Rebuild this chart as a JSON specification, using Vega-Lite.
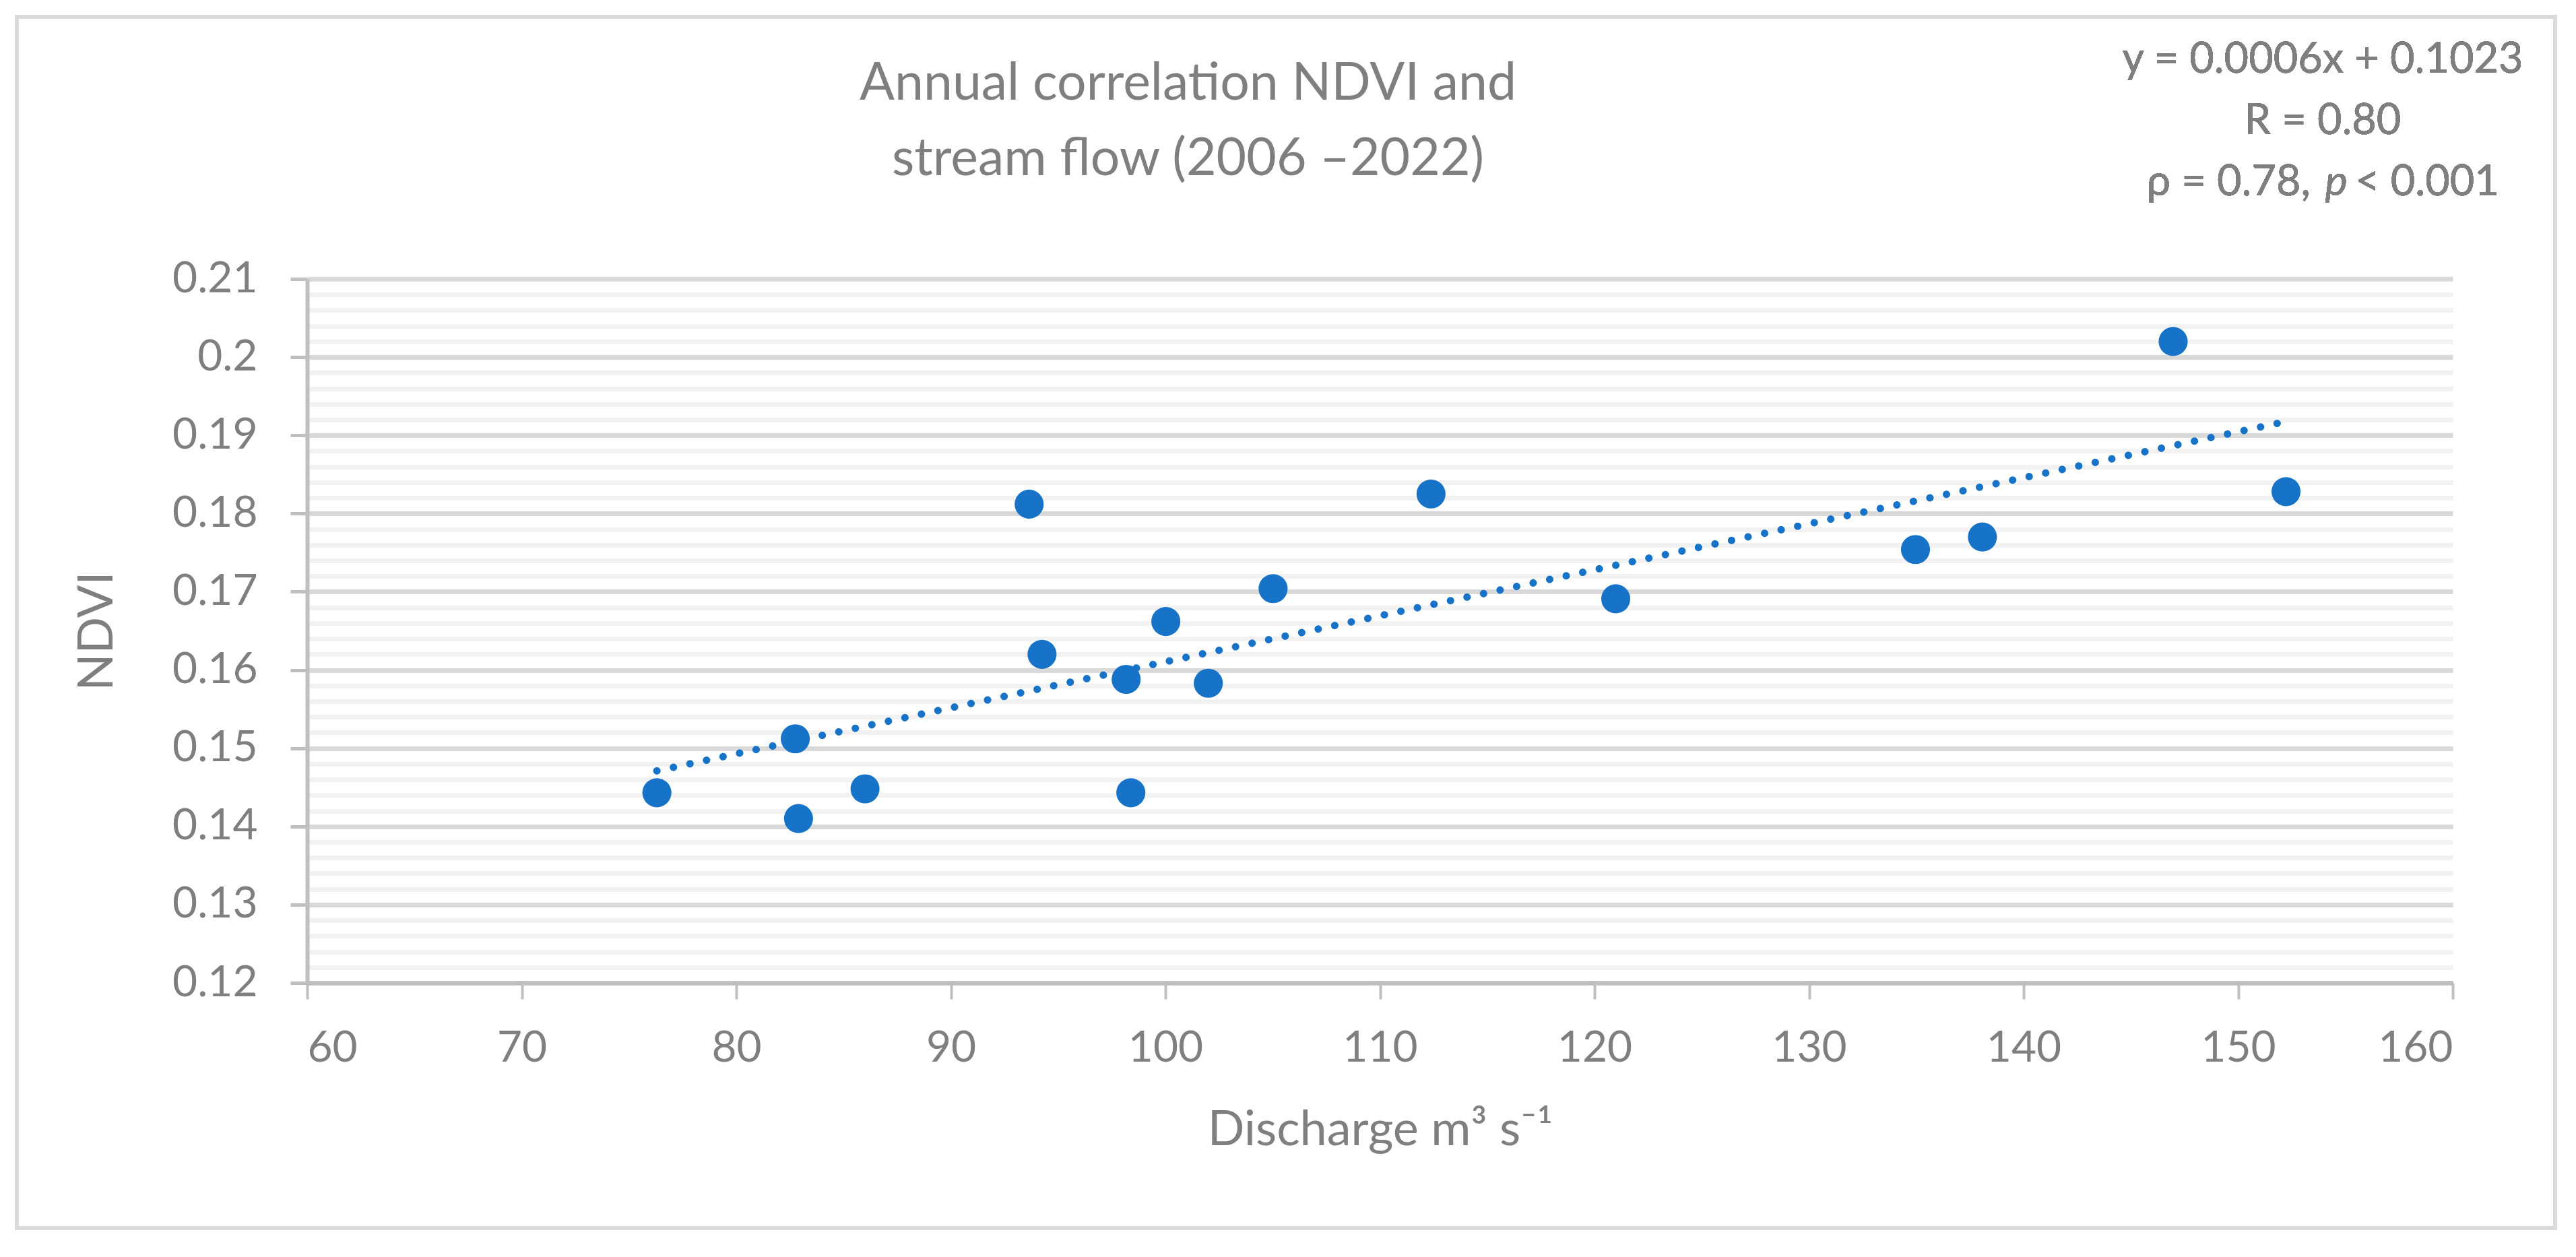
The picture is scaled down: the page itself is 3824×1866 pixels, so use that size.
{
  "$schema": "https://vega.github.io/schema/vega-lite/v6.json",
  "description": "Annual correlation NDVI and stream flow (2006-2022), scatter with linear trendline",
  "width": 3185,
  "height": 1045,
  "autosize": {"type": "none"},
  "padding": {"left": 456, "top": 414, "right": 183, "bottom": 407},
  "background": "white",
  "config": {
    "view": {"stroke": null},
    "font": "Lato",
    "text": {"font": "Lato"}
  },
  "title": {
    "text": ["Annual correlation NDVI and", "stream flow (2006 \u20132022)"],
    "anchor": "middle",
    "dx": -285,
    "offset": -253,
    "font": "Lato",
    "fontSize": 77,
    "fontWeight": "normal",
    "color": "#7F7F7F",
    "lineHeight": 112
  },
  "data": {
    "values": [
      {"Discharge": 76.3, "NDVI": 0.1443},
      {"Discharge": 82.75, "NDVI": 0.1512},
      {"Discharge": 82.9, "NDVI": 0.141},
      {"Discharge": 86.0, "NDVI": 0.1448},
      {"Discharge": 93.65, "NDVI": 0.1812},
      {"Discharge": 94.25, "NDVI": 0.162},
      {"Discharge": 98.17, "NDVI": 0.1588},
      {"Discharge": 98.39, "NDVI": 0.1443},
      {"Discharge": 100.02, "NDVI": 0.1662},
      {"Discharge": 102.0, "NDVI": 0.1583},
      {"Discharge": 105.02, "NDVI": 0.1704},
      {"Discharge": 112.38, "NDVI": 0.1825},
      {"Discharge": 120.99, "NDVI": 0.1691},
      {"Discharge": 134.96, "NDVI": 0.1754},
      {"Discharge": 138.08, "NDVI": 0.177},
      {"Discharge": 146.97, "NDVI": 0.202},
      {"Discharge": 152.23, "NDVI": 0.1828}
    ]
  },
  "encoding": {
    "x": {
      "field": "Discharge",
      "type": "quantitative",
      "scale": {"domain": [60, 160], "nice": false, "zero": false},
      "axis": {
        "title": "Discharge m\u00b3 s\u207b\u00b9",
        "values": [60, 70, 80, 90, 100, 110, 120, 130, 140, 150, 160],
        "grid": false,
        "domainColor": "#BFBFBF",
        "domainWidth": 6.5,
        "tickColor": "#BFBFBF",
        "tickWidth": 4,
        "tickSize": 24,
        "labelFont": "Lato",
        "labelFontSize": 64,
        "labelColor": "#7F7F7F",
        "labelPadding": 41,
        "labelOverlap": false,
        "titleFont": "Lato",
        "titleFontSize": 72,
        "titleFontWeight": "normal",
        "titleColor": "#7F7F7F",
        "titlePadding": 54
      }
    },
    "y": {
      "field": "NDVI",
      "type": "quantitative",
      "scale": {"domain": [0.12, 0.21], "nice": false, "zero": false},
      "axis": {
        "title": "NDVI",
        "values": [0.12, 0.122, 0.124, 0.126, 0.128, 0.13, 0.132, 0.134, 0.136, 0.138, 0.14, 0.142, 0.144, 0.146, 0.148, 0.15, 0.152, 0.154, 0.156, 0.158, 0.16, 0.162, 0.164, 0.166, 0.168, 0.17, 0.172, 0.174, 0.176, 0.178, 0.18, 0.182, 0.184, 0.186, 0.188, 0.19, 0.192, 0.194, 0.196, 0.198, 0.2, 0.202, 0.204, 0.206, 0.208, 0.21],
        "grid": true,
        "gridColor": {"condition": {"test": "round(datum.value * 1000) % 10 == 0", "value": "#D9D9D9"}, "value": "#F2F2F2"},
        "gridWidth": 7,
        "domainColor": "#BFBFBF",
        "domainWidth": 6,
        "tickColor": "#BFBFBF",
        "tickOpacity": {"condition": {"test": "round(datum.value * 1000) % 10 == 0", "value": 1}, "value": 0},
        "tickWidth": 5,
        "tickSize": 25,
        "labelExpr": "round(datum.value * 1000) % 10 == 0 ? toString(round(datum.value * 100) / 100) : ''",
        "labelFont": "Lato",
        "labelFontSize": 64,
        "labelColor": "#7F7F7F",
        "labelPadding": 49,
        "labelOverlap": false,
        "titleFont": "Lato",
        "titleFontSize": 72,
        "titleFontWeight": "normal",
        "titleColor": "#7F7F7F",
        "titlePadding": 75
      }
    }
  },
  "layer": [
    {
      "mark": {"type": "rect", "fill": null, "stroke": "#D9D9D9", "strokeWidth": 5},
      "encoding": {
        "x": {"datum": 46.47, "type": "quantitative"},
        "x2": {"datum": 164.77},
        "y": {"datum": 0.2435, "type": "quantitative"},
        "y2": {"datum": 0.08865}
      }
    },
    {
      "mark": {"type": "circle", "size": 1860, "color": "#1773C8", "opacity": 1}
    },
    {
      "transform": [{"regression": "NDVI", "on": "Discharge"}],
      "mark": {"type": "line", "color": "#1773C8", "strokeWidth": 11, "strokeCap": "round", "strokeDash": [0.1, 25]}
    },
    {
      "mark": {"type": "text", "font": "Lato", "fontSize": 63, "color": "#7F7F7F", "align": "center", "baseline": "alphabetic", "lineHeight": 91, "text": ["y = 0.0006x + 0.1023", "R = 0.80"]},
      "encoding": {
        "x": {"datum": 153.94, "type": "quantitative"},
        "y": {"datum": 0.23635, "type": "quantitative"}
      }
    },
    {
      "mark": {"type": "text", "font": "Lato", "fontSize": 63, "color": "#7F7F7F", "align": "right", "baseline": "alphabetic", "text": "\u03c1 = 0.78,"},
      "encoding": {
        "x": {"datum": 153.37, "type": "quantitative"},
        "y": {"datum": 0.22068, "type": "quantitative"}
      }
    },
    {
      "mark": {"type": "text", "font": "Lato", "fontSize": 63, "fontStyle": "italic", "color": "#7F7F7F", "align": "center", "baseline": "alphabetic", "text": "p"},
      "encoding": {
        "x": {"datum": 154.57, "type": "quantitative"},
        "y": {"datum": 0.22068, "type": "quantitative"}
      }
    },
    {
      "mark": {"type": "text", "font": "Lato", "fontSize": 63, "color": "#7F7F7F", "align": "left", "baseline": "alphabetic", "text": "< 0.001"},
      "encoding": {
        "x": {"datum": 155.45, "type": "quantitative"},
        "y": {"datum": 0.22068, "type": "quantitative"}
      }
    }
  ]
}
